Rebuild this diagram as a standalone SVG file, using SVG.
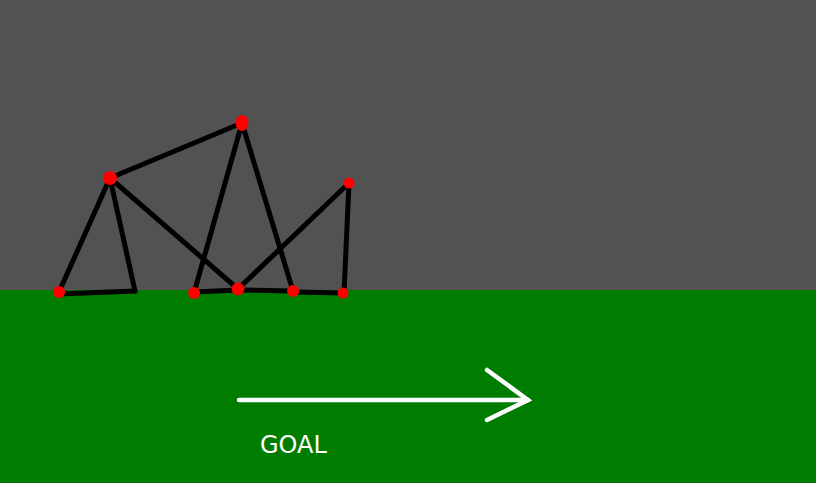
<svg xmlns="http://www.w3.org/2000/svg" width="816" height="483" viewBox="0 0 816 483">
<style>
.e{stroke:#000;stroke-width:5;stroke-linecap:round;fill:none}
.n{fill:#ff0000}
.w{stroke:#fff;stroke-width:4.5;stroke-linecap:round;fill:none}
</style>
<rect x="0" y="0" width="816" height="290" fill="#525252"/>
<rect x="0" y="290" width="816" height="193" fill="#007c00"/>
<g id="connectors">
<line class="e" x1="59" y1="292" x2="110" y2="178"/>
<line class="e" x1="110" y1="178" x2="135" y2="291"/>
<line class="e" x1="59" y1="294" x2="135" y2="291"/>
<line class="e" x1="110" y1="178" x2="242" y2="123"/>
<line class="e" x1="110" y1="178" x2="238" y2="289"/>
<line class="e" x1="242" y1="123" x2="194" y2="293"/>
<line class="e" x1="242" y1="123" x2="293" y2="291"/>
<line class="e" x1="194" y1="292" x2="238" y2="290"/>
<line class="e" x1="238" y1="290" x2="293" y2="291"/>
<line class="e" x1="293" y1="292" x2="343" y2="293"/>
<line class="e" x1="238" y1="289" x2="349" y2="183"/>
<line class="e" x1="349" y1="183" x2="344" y2="293"/>
</g>
<g id="nA"><circle class="n" cx="59" cy="292" r="6"/></g>
<g id="nB"><circle class="n" cx="110" cy="178" r="7"/></g>
<g id="nC"><ellipse class="n" cx="242" cy="123" rx="6.5" ry="8"/></g>
<g id="nD"><circle class="n" cx="349" cy="183" r="5.5"/></g>
<g id="nF"><circle class="n" cx="194" cy="293" r="6"/></g>
<g id="nG"><circle class="n" cx="238" cy="289" r="6.5"/></g>
<g id="nH"><circle class="n" cx="293" cy="291" r="6"/></g>
<g id="nI"><circle class="n" cx="343" cy="293" r="5.5"/></g>
<g id="goal">
<line class="w" x1="239" y1="400" x2="528" y2="400"/>
<polyline class="w" points="487,370 528,400 487,420"/>
<text x="260" y="452.5" font-family="DejaVu Sans, sans-serif" font-size="24" fill="#fff">GOAL</text>
</g>
</svg>
